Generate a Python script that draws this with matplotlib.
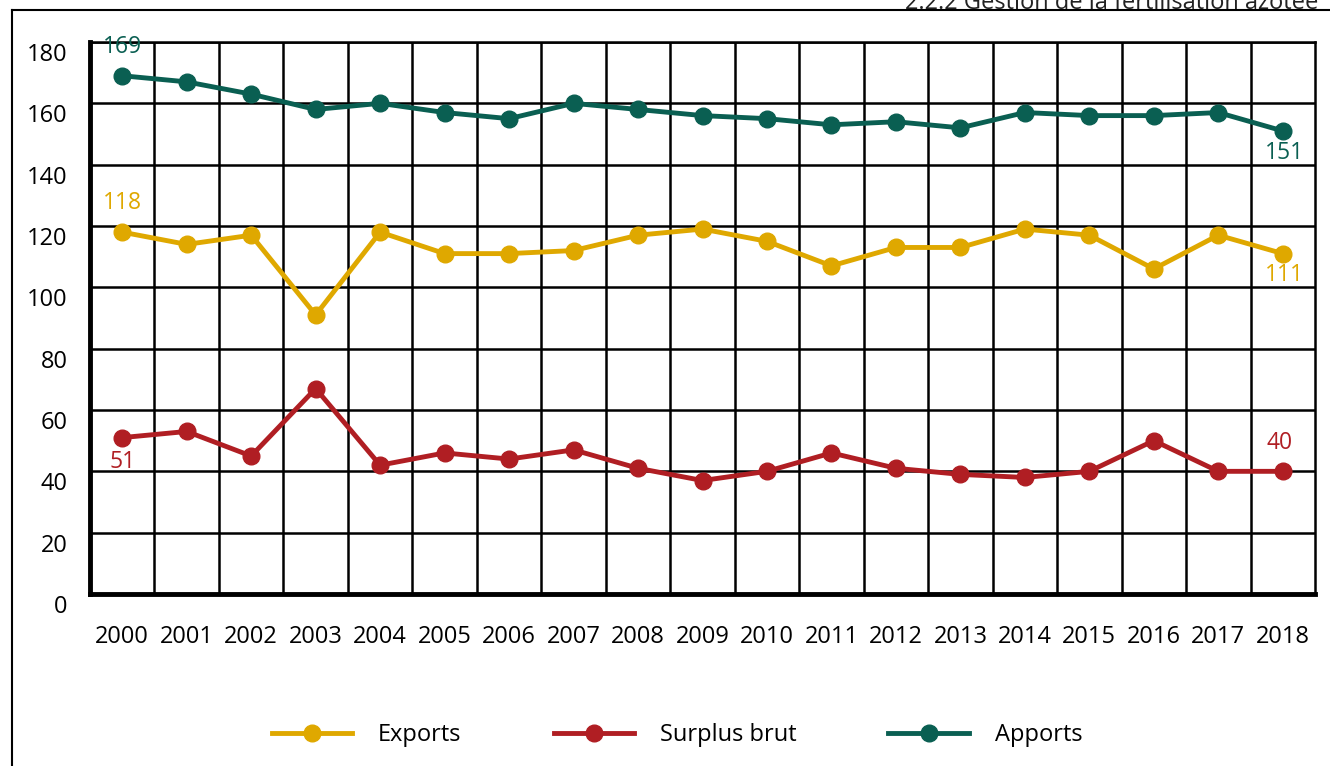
import numpy as np
import matplotlib
matplotlib.use('Agg')
from matplotlib import pyplot as plt
from matplotlib.lines import Line2D
import matplotlib.transforms as mtransforms

years = [str(y) for y in range(2000, 2019)]
apports = [169, 167, 163, 158, 160, 157, 155, 160, 158, 156, 155, 153, 154, 152, 157, 156, 156, 157, 151]
exports = [118, 114, 117, 91, 118, 111, 111, 112, 117, 119, 115, 107, 113, 113, 119, 117, 106, 117, 111]
surplus = [51, 53, 45, 67, 42, 46, 44, 47, 41, 37, 40, 46, 41, 39, 38, 40, 50, 40, 40]
yticks = [0, 20, 40, 60, 80, 100, 120, 140, 160, 180]

c_exp = '#DFA800'
c_sur = '#B01E23'
c_app = '#0A5F52'

plt.rcParams['font.family'] = ['Open Sans', 'DejaVu Sans']

fig = plt.figure(figsize=(13.3, 7.66), dpi=100)
W, H = 1330, 766
ax = fig.add_axes([90 / W, 1 - 594 / H, (1315 - 90) / W, (594 - 42) / H])

x = np.arange(len(years))
ax.plot(x, exports, color=c_exp, lw=3.5, marker='o', ms=12, label='Exports')
ax.plot(x, surplus, color=c_sur, lw=3.5, marker='o', ms=12, label='Surplus brut')
ax.plot(x, apports, color=c_app, lw=3.5, marker='o', ms=12, label='Apports')

ax.set_xlim(-0.5, len(years) - 0.5)
ax.set_ylim(0, 180)
ax.set_yticks(yticks)
ax.set_xticks(x)
ax.set_xticklabels(years)
ax.set_xticks(x[:-1] + 0.5, minor=True)
ax.grid(True, which='major', axis='y', color='black', lw=1.8)
ax.grid(True, which='minor', axis='x', color='black', lw=1.8)
ax.set_axisbelow(True)
ax.tick_params(which='both', length=0)
ax.tick_params(axis='x', labelsize=17, pad=22)
ax.tick_params(axis='y', labelsize=17, pad=16)
for sp in ax.spines.values():
    sp.set_linewidth(1.8)
ax.spines['left'].set_linewidth(3.5)
ax.spines['bottom'].set_linewidth(3.5)

off = mtransforms.ScaledTranslation(0, -10 / 100, fig.dpi_scale_trans)
for lab in ax.get_yticklabels():
    lab.set_transform(lab.get_transform() + off)

# end labels
fs = 16.5
ax.annotate('169', (0, apports[0]), xytext=(0, 12), textcoords='offset points',
            ha='center', va='bottom', color=c_app, fontsize=fs)
ax.annotate('118', (0, exports[0]), xytext=(0, 12), textcoords='offset points',
            ha='center', va='bottom', color=c_exp, fontsize=fs)
ax.annotate('51', (0, surplus[0]), xytext=(0, -9), textcoords='offset points',
            ha='center', va='top', color=c_sur, fontsize=fs)
ax.annotate('151', (18, apports[-1]), xytext=(1, -7), textcoords='offset points',
            ha='center', va='top', color=c_app, fontsize=fs)
ax.annotate('111', (18, exports[-1]), xytext=(1, -7), textcoords='offset points',
            ha='center', va='top', color=c_exp, fontsize=fs)
ax.annotate('40', (18, surplus[-1]), xytext=(-2, 12), textcoords='offset points',
            ha='center', va='bottom', color=c_sur, fontsize=fs)

# outer frame
fig.add_artist(Line2D([12 / W, 1], [1 - 10 / H, 1 - 10 / H], color='black', lw=1.5, transform=fig.transFigure))
fig.add_artist(Line2D([12 / W, 12 / W], [0, 1 - 10 / H], color='black', lw=1.5, transform=fig.transFigure))
fig.text(905 / W, 1 - 9 / H, '2.2.2 Gestion de la fertilisation azotée', ha='left', va='baseline',
         fontsize=17, color='#222222')

fig.legend(loc='center', bbox_to_anchor=(677 / W, 1 - 735 / H), ncol=3, frameon=False,
           fontsize=17, handlelength=3.4, columnspacing=3.9, handletextpad=1.1)

fig.savefig('out.png', dpi=100)
